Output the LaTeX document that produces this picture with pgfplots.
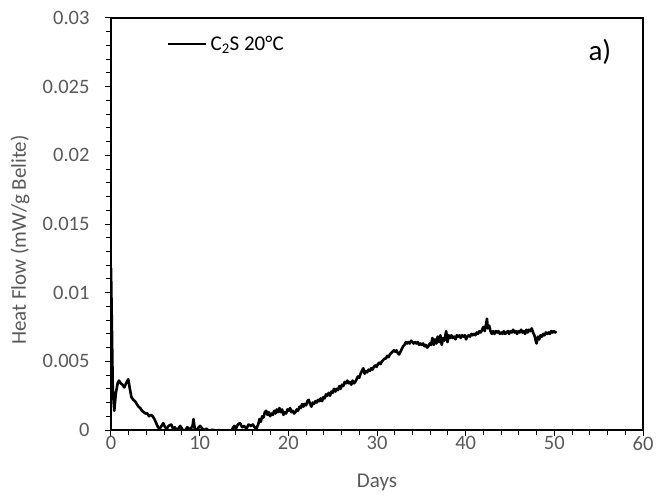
\documentclass[border=0pt]{standalone}
\usepackage{fontspec}
\setmainfont{Carlito}
\usepackage{pgfplots}
\usetikzlibrary{calc}
\pgfplotsset{compat=1.18}
\definecolor{lbl}{RGB}{89,89,89}
\begin{document}
\begin{tikzpicture}
\begin{axis}[
  name=ax,
  scale only axis, width=532pt, height=412pt,
  xmin=0, xmax=60, ymin=0, ymax=0.03,
  xtick={0,10,20,30,40,50,60},
  xticklabels={0,10,20,30,40,50,60},
  minor x tick num=4,
  ytick={0,0.005,0.01,0.015,0.02,0.025,0.03},
  yticklabels={0,0.005,0.01,0.015,0.02,0.025,0.03},
  minor y tick num=4,
  scaled y ticks=false, scaled x ticks=false,
  tick align=outside, tick pos=left,
  major tick length=6pt, minor tick length=5pt,
  every tick/.style={black, line width=1pt},
  axis line style={black, line width=1.2pt},
  /pgf/number format/assume math mode=true,
  ticklabel style={font=\fontsize{20.5}{24}\selectfont, text=lbl},
  yticklabel style={xshift=-12pt},
  xticklabel style={yshift=3pt},
  xlabel={Days}, ylabel={Heat Flow (mW/g Belite)},
  label style={font=\fontsize{21}{25}\selectfont, text=lbl},
  xlabel style={at={(axis description cs:0.5,-0.127)}, anchor=center},
  ylabel style={at={(axis description cs:-0.171,0.461)}, anchor=center},
  legend style={at={(axis description cs:0.105,0.937)}, anchor=west, draw=none, fill=none,
    font=\fontsize{21}{25}\selectfont, inner sep=0pt,
    nodes={inner xsep=4pt}},
  legend image code/.code={\draw[black, line width=1.5pt] (0pt,0pt) -- (38pt,0pt);},
  clip=true,
]
\addplot[black, line width=2.6pt, line join=round] coordinates {
(0,0.0118) (0.1,0.0075) (0.2,0.003) (0.37,0.0014) (0.55,0.0027) (0.75,0.0034) (0.9,0.0036)
(1.1,0.0034) (1.3,0.0033) (1.5,0.0031) (1.7,0.0034) (1.95,0.0037) (2.1,0.0031) (2.3,0.0024)
(2.5,0.0022) (2.7,0.0021) (2.9,0.0019) (3.1,0.0017) (3.3,0.0016) (3.5,0.0014) (3.7,0.0013)
(3.9,0.0012) (4.1,0.0012) (4.3,0.0010) (4.5,0.0011) (4.7,0.0010) (4.9,0.0008) (5.1,0.0005)
(5.3,0.0002) (5.5,0.0001) (5.7,0.0003) (5.9,0.0005) (6.1,0.0002) (6.3,0.0001) (6.5,0.0003)
(6.8,0.0004) (7.0,0.0001) (7.2,0.0002) (7.4,0.0000) (7.6,0.0001) (7.8,0.0003) (8.0,0.0001)
(8.2,-0.0001) (8.4,0.0000) (8.6,0.0002) (8.8,0.0001) (9.0,0.0001) (9.2,0.0003) (9.3,0.0008)
(9.45,0.0001) (9.7,0.0000) (9.9,0.0002) (10.05,0.0003) (10.3,0.0001) (10.5,0.0000) (10.8,0.0001)
(11.0,-0.0001) (11.3,0.0000) (11.6,0.0000) (11.9,-0.0001) (12.2,0.0000) (12.5,-0.0002)
(13.0,-0.0004) (13.4,-0.0003) (13.7,0.0001) (13.9,0.0003) (14.1,0.0001) (14.3,0.0004)
(14.55,0.0005) (14.8,0.0002) (15.0,0.0003) (15.3,0.0001) (15.5,0.0004) (15.8,0.0003)
(16.0,0.0004) (16.2,0.0002) (16.4,0.0001)
(16.6,0.0004) (16.75,0.0008) (16.9,0.0006) (17.05,0.0010) (17.2,0.0009) (17.35,0.0013)
(17.5,0.0014) (17.65,0.0011) (17.8,0.0013) (17.95,0.0010) (18.1,0.0012) (18.25,0.0011)
(18.4,0.0014) (18.55,0.0012) (18.7,0.0015) (18.85,0.0013) (19.0,0.0016) (19.15,0.0013)
(19.3,0.0015) (19.45,0.0011) (19.6,0.0013) (19.75,0.0012) (19.9,0.0015) (20.05,0.0014)
(20.2,0.0016) (20.35,0.0013) (20.5,0.0014) (20.65,0.0012) (20.8,0.0013) (20.95,0.0015)
(21.1,0.0014) (21.25,0.0017) (21.4,0.0016) (21.55,0.0019) (21.7,0.0017) (21.85,0.0019)
(22.0,0.0018) (22.15,0.0021) (22.3,0.0022) (22.45,0.0019) (22.6,0.0017) (22.75,0.0020)
(22.9,0.0019) (23.05,0.0021) (23.2,0.0020) (23.35,0.0022) (23.5,0.0021) (23.65,0.0023)
(23.8,0.0021) (23.95,0.0024) (24.1,0.0023) (24.25,0.0026) (24.4,0.0025) (24.55,0.0027)
(24.7,0.0025) (24.85,0.0028) (25.0,0.0027) (25.15,0.0030) (25.3,0.0028) (25.45,0.0030)
(25.6,0.0029) (25.75,0.0032) (25.9,0.0030) (26.05,0.0033) (26.2,0.0032) (26.35,0.0035)
(26.5,0.0034) (26.65,0.0036) (26.8,0.0034) (26.95,0.0035) (27.1,0.0033) (27.25,0.0036)
(27.4,0.0034) (27.55,0.0035) (27.7,0.0037) (27.85,0.0039) (28.0,0.0038) (28.15,0.0041)
(28.3,0.0043) (28.45,0.0045) (28.6,0.0041) (28.75,0.0043) (28.9,0.0042) (29.05,0.0044)
(29.2,0.0043) (29.35,0.0045) (29.5,0.0044) (29.65,0.0046) (29.8,0.0047) (29.95,0.0046)
(30.1,0.0048) (30.25,0.0049) (30.4,0.0048) (30.55,0.0050) (30.7,0.0051) (30.85,0.0052)
(31.0,0.0052) (31.15,0.0054) (31.3,0.0053) (31.45,0.0055) (31.6,0.0056) (31.75,0.0057)
(31.9,0.0058) (32.05,0.0057) (32.2,0.0058) (32.35,0.0056) (32.5,0.0055) (32.65,0.0057)
(32.8,0.0059) (32.95,0.0061) (33.1,0.0062) (33.25,0.0064) (33.4,0.0063) (33.55,0.0064)
(33.7,0.0063) (33.85,0.0065) (34.0,0.0064) (34.15,0.0063) (34.3,0.0064) (34.45,0.0063)
(34.6,0.0064) (34.75,0.0062) (34.9,0.0063) (35.05,0.0062) (35.2,0.0063) (35.35,0.0061)
(35.5,0.0062) (35.65,0.0060) (35.8,0.0061) (35.95,0.0063) (36.1,0.0062) (36.25,0.0067)
(36.4,0.0062) (36.55,0.0066) (36.7,0.0063) (36.85,0.0068) (37.0,0.0064) (37.15,0.0069)
(37.3,0.0062) (37.45,0.0067) (37.6,0.0065) (37.8,0.0072) (37.95,0.0064) (38.1,0.0069)
(38.25,0.0067) (38.4,0.0069) (38.55,0.0067) (38.7,0.0068) (38.85,0.0066) (39.0,0.0069)
(39.15,0.0068) (39.3,0.0069) (39.45,0.0067) (39.6,0.0069) (39.75,0.0068) (39.9,0.0069)
(40.05,0.0066) (40.2,0.0068) (40.35,0.0069) (40.5,0.0068) (40.65,0.0070) (40.8,0.0069)
(40.95,0.0070) (41.1,0.0069) (41.25,0.0071) (41.4,0.0070) (41.55,0.0072) (41.7,0.0071)
(41.85,0.0073) (42.0,0.0075) (42.15,0.0072) (42.3,0.0077) (42.4,0.0081) (42.5,0.0074)
(42.65,0.0076) (42.8,0.0072) (42.95,0.0070) (43.1,0.0072) (43.25,0.0070) (43.4,0.0072)
(43.55,0.0071) (43.7,0.0072) (43.85,0.0070) (44.0,0.0071) (44.15,0.0070) (44.3,0.0072)
(44.45,0.0070) (44.6,0.0071) (44.75,0.0072) (44.9,0.0070) (45.05,0.0072) (45.2,0.0071)
(45.35,0.0073) (45.5,0.0071) (45.65,0.0072) (45.8,0.0070) (45.95,0.0072) (46.1,0.0071)
(46.25,0.0073) (46.4,0.0071) (46.55,0.0072) (46.7,0.0070) (46.85,0.0073) (47.0,0.0071)
(47.15,0.0073) (47.3,0.0072) (47.45,0.0074) (47.6,0.0071) (47.75,0.0069) (47.9,0.0065)
(48.0,0.0063) (48.15,0.0068) (48.3,0.0066) (48.45,0.0069) (48.6,0.0068) (48.75,0.0070)
(48.9,0.0069) (49.05,0.0071) (49.2,0.0070) (49.35,0.0071) (49.5,0.0070) (49.65,0.0072)
(49.8,0.0071) (49.95,0.0072) (50.1,0.0071) (50.2,0.0072)
};
\addlegendentry{C\textsubscript{2}S 20°C}
\node[font=\fontsize{29}{34}\selectfont, text=black] at (axis description cs:0.919,0.917) {a)};
\end{axis}
\path (ax.south west) ++(-111pt,-62pt) rectangle ($(ax.north east)+(15pt,18pt)$);
\end{tikzpicture}
\end{document}
